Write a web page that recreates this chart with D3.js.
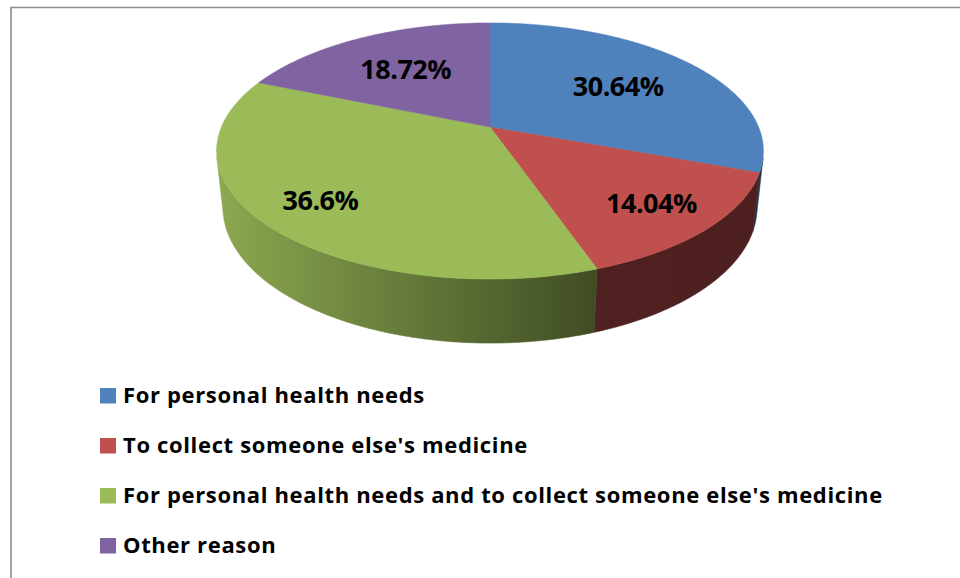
<!DOCTYPE html>
<html>
<head>
<meta charset="utf-8">
<script src="https://cdn.jsdelivr.net/npm/d3@7"></script>
<style>
  html, body { margin: 0; padding: 0; background: #ffffff; }
  svg { display: block; }
  text { font-family: "Open Sans", "Noto Sans", sans-serif; font-weight: 700; fill: #000; }
</style>
</head>
<body>
<svg id="chart" width="960" height="578"></svg>
<script>
// ---- data ----
const categories = [
  "For personal health needs",
  "To collect someone else's medicine",
  "For personal health needs and to collect someone else's medicine",
  "Other reason"
];
const values = [30.64, 14.04, 36.6, 18.72];
const colors = ["#4F81BD", "#C0504D", "#9BBB59", "#8064A2"];

// ---- layout ----
const width = 960, height = 578;
// perspective camera looking down at a unit-radius disc
const cam = {
  cx: 490, cy: 127,          // screen position of the disc centre
  focal: 1272,               // focal length in px
  dist: 4.736,               // camera distance (disc radii)
  tilt: 27.4 * Math.PI / 180,// elevation of the camera
  thick: 0.239               // disc thickness (disc radii)
};
const labelRadius = [0.62, 0.77, 0.78, 0.62]; // where each value label sits, as a fraction of radius

const svg = d3.select("#chart");
const cosT = Math.cos(cam.tilt), sinT = Math.sin(cam.tilt);

// world: x right, y away from the viewer, z up. angle a measured clockwise from "far" (12 o'clock)
function project(x, y, z) {
  const vx = x, vy = y + cam.dist * cosT, vz = z - cam.dist * sinT;
  const depth = vy * cosT - vz * sinT;
  const up = vy * sinT + vz * cosT;
  return [cam.cx + cam.focal * vx / depth, cam.cy - cam.focal * up / depth];
}
const rimPoint = (a, r, z) => project(r * Math.sin(a), r * Math.cos(a), z);

function arcPoints(a0, a1, r, z) {
  const n = Math.max(2, Math.ceil(Math.abs(a1 - a0) / (Math.PI / 360)));
  return d3.range(n + 1).map(i => rimPoint(a0 + (a1 - a0) * i / n, r, z));
}

const pie = d3.pie().sort(null).value(d => d);
const arcs = pie(values);
const line = d3.line();

// side wall is visible where the outward normal faces the camera
const aVis = Math.acos(-1 / (cam.dist * cosT));
const visStart = aVis, visEnd = 2 * Math.PI - aVis;

// horizontal extent of the top ellipse, used for the side shading gradient
const topOutline = arcPoints(0, 2 * Math.PI, 1, 0);
const xMin = d3.min(topOutline, p => p[0]);
const xMax = d3.max(topOutline, p => p[0]);

const defs = svg.append("defs");
colors.forEach((col, i) => {
  const base = d3.rgb(col);
  const shade = k => d3.rgb(base.r * k, base.g * k, base.b * k).formatHex();
  const g = defs.append("linearGradient")
    .attr("id", "side" + i)
    .attr("gradientUnits", "userSpaceOnUse")
    .attr("x1", xMin).attr("x2", xMax).attr("y1", 0).attr("y2", 0);
  g.append("stop").attr("offset", 0).attr("stop-color", shade(0.90));
  g.append("stop").attr("offset", 0.69).attr("stop-color", shade(0.41));
  g.append("stop").attr("offset", 1).attr("stop-color", shade(0.40));
});

// chart frame
svg.append("path")
  .attr("d", `M${width + 5},7.5 H11 V${height + 5}`)
  .attr("fill", "none")
  .attr("stroke", "#8C8C8C")
  .attr("stroke-width", 1.6);

const pieG = svg.append("g");

// side walls
arcs.forEach((d, i) => {
  const a0 = Math.max(d.startAngle, visStart);
  const a1 = Math.min(d.endAngle, visEnd);
  if (a1 <= a0) return;
  const pts = arcPoints(a0, a1, 1, 0).concat(arcPoints(a1, a0, 1, -cam.thick));
  pieG.append("path")
    .attr("d", line(pts) + "Z")
    .attr("fill", `url(#side${i})`)
    .attr("stroke", `url(#side${i})`)
    .attr("stroke-width", 0.6);
});

// top faces
arcs.forEach((d, i) => {
  const pts = [project(0, 0, 0)].concat(arcPoints(d.startAngle, d.endAngle, 1, 0));
  pieG.append("path")
    .attr("d", line(pts) + "Z")
    .attr("fill", colors[i])
    .attr("stroke", colors[i])
    .attr("stroke-width", 0.5);
});

// value labels
arcs.forEach((d, i) => {
  const mid = (d.startAngle + d.endAngle) / 2;
  const [x, y] = rimPoint(mid, labelRadius[i], 0);
  svg.append("text")
    .attr("x", x)
    .attr("y", y + 10)
    .attr("text-anchor", "middle")
    .style("font-size", "27px")
    .style("letter-spacing", "-0.5px")
    .text(`${d.data}%`);
});

// legend
const legendY = d3.scalePoint().domain(categories).range([388, 538]);
const legend = svg.append("g");
categories.forEach((c, i) => {
  const y = legendY(c);
  legend.append("rect")
    .attr("x", 100).attr("y", y)
    .attr("width", 16).attr("height", 15.5)
    .attr("fill", colors[i]);
  legend.append("text")
    .attr("x", 123).attr("y", y + 15)
    .style("font-size", "22px")
    .style("letter-spacing", "0.65px")
    .text(c);
});
</script>
</body>
</html>
